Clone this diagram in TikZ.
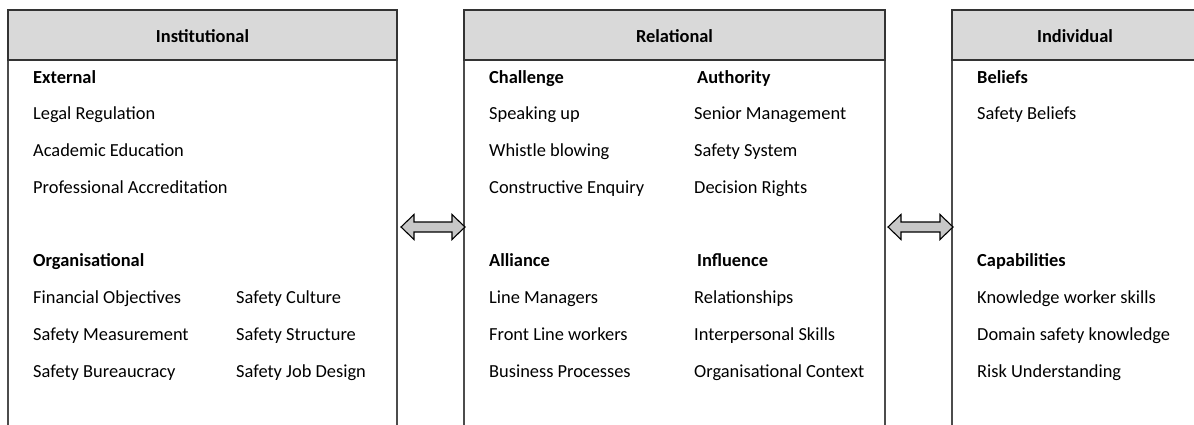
\documentclass[tikz,border=0pt]{standalone}
\usepackage{fontspec}
\setmainfont{Carlito}
\usetikzlibrary{positioning,calc}

\begin{document}
\begin{tikzpicture}[x=1pt, y=-1pt, line join=miter,
  head/.style={font=\fontsize{18.4}{22}\selectfont\bfseries, anchor=base, inner sep=0pt},
  sub/.style={font=\fontsize{18.4}{22}\selectfont\bfseries, anchor=base west, inner sep=0pt},
  item/.style={font=\fontsize{18.4}{22}\selectfont, anchor=base west, inner sep=0pt},
  panel/.style={draw=black!70, line width=1.6pt},
  band/.style={fill=black!15, draw=black!80, line width=1.6pt},
  link/.style={fill=black!22, draw=black, line width=1.1pt}]

\useasboundingbox (0,0) rectangle (1194,424);
\clip (0,0) rectangle (1194,424);

% --- row layout ---
\def\yTop{10}
\def\yBand{60}
\def\yOne{83}
\def\dy{36.75}

% ------------------ panels ------------------
\foreach \name/\xl/\xr/\title in {inst/8/397/Institutional, rel/464/885/Relational, ind/952/1198/Individual}{
  \draw[panel] (\xl,\yBand) rectangle (\xr,440);
  \draw[band] (\xl,\yTop) rectangle (\xr,\yBand);
  \node[head] (\name) at ({(\xl+\xr)/2},42) {\title};
}

% ------------------ LEFT: institutional ------------------
\node[sub] (ext) at (33,\yOne) {External};
\foreach \k/\txt in {1/Legal Regulation, 2/Academic Education, 3/Professional Accreditation}
  \node[item] (ext\k) at (33,{\yOne+\k*\dy}) {\txt};

\node[sub] (org) at (33,{\yOne+5*\dy}) {Organisational};
\foreach \k/\txt/\txtb in {6/Financial Objectives/Safety Culture,
                          7/Safety Measurement/Safety Structure,
                          8/Safety Bureaucracy/Safety Job Design}{
  \node[item] (orgA\k) at (33,{\yOne+\k*\dy}) {\txt};
  \node[item] (orgB\k) at (236,{\yOne+\k*\dy}) {\txtb};
}

% ------------------ MIDDLE: relational ------------------
\node[sub] (chal) at (489,\yOne) {Challenge};
\node[sub] (auth) at (697,\yOne) {Authority};
\foreach \k/\txt/\txtb in {1/Speaking up/Senior Management,
                          2/Whistle blowing/Safety System,
                          3/Constructive Enquiry/Decision Rights}{
  \node[item] (chal\k) at (489,{\yOne+\k*\dy}) {\txt};
  \node[item] (auth\k) at (694,{\yOne+\k*\dy}) {\txtb};
}

\node[sub] (alli) at (489,{\yOne+5*\dy}) {Alliance};
\node[sub] (infl) at (697,{\yOne+5*\dy}) {Influence};
\foreach \k/\txt/\txtb in {6/Line Managers/Relationships,
                          7/Front Line workers/Interpersonal Skills,
                          8/Business Processes/Organisational Context}{
  \node[item] (alli\k) at (489,{\yOne+\k*\dy}) {\txt};
  \node[item] (infl\k) at (694,{\yOne+\k*\dy}) {\txtb};
}

% ------------------ RIGHT: individual ------------------
\node[sub] (bel) at (977,\yOne) {Beliefs};
\node[item] (bel1) at (977,{\yOne+\dy}) {Safety Beliefs};

\node[sub] (cap) at (977,{\yOne+5*\dy}) {Capabilities};
\foreach \k/\txt in {6/Knowledge worker skills, 7/Domain safety knowledge, 8/Risk Understanding}
  \node[item] (cap\k) at (977,{\yOne+\k*\dy}) {\txt};

% block arrows between the panels
\coordinate (instR) at (401,227);
\coordinate (relL)  at (465,227);
\coordinate (relR)  at (888,227);
\coordinate (indL)  at (953,227);
\foreach \a/\b in {instR/relL, relR/indL}
  \draw[link] (\a) -- ++(13,-12.5) -- ++(0,7.5) -- ($(\b)+(-13,-5)$) -- ++(0,-7.5)
    -- (\b) -- ++(-13,12.5) -- ++(0,-7.5) -- ($(\a)+(13,5)$) -- ++(0,7.5) -- cycle;

\end{tikzpicture}
\end{document}
